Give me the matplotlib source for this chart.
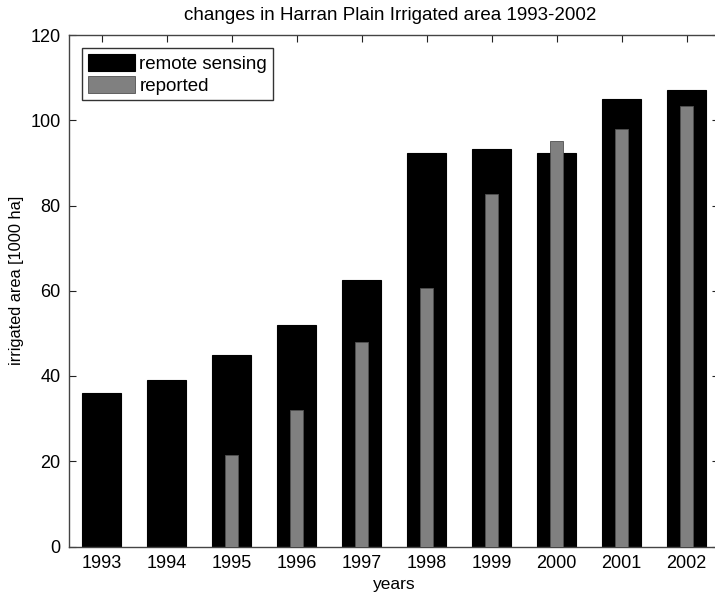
import numpy as np
import matplotlib
matplotlib.use("Agg")
import matplotlib.pyplot as plt

plt.rcParams["font.family"] = ["Liberation Sans", "DejaVu Sans"]

years = [1993, 1994, 1995, 1996, 1997, 1998, 1999, 2000, 2001, 2002]
remote_sensing = [36, 39, 45, 52, 62.6, 92.2, 93.2, 92.2, 105.1, 107.2]
reported = [np.nan, np.nan, 21.5, 32, 48, 60.7, 82.6, 95.2, 97.9, 103.3]

W, H = 715, 598
fig = plt.figure(figsize=(W / 100, H / 100), dpi=100)
ax = fig.add_axes([69 / W, (H - 546.5) / H, 650 / W, (546.5 - 35) / H])

ax.bar(years, remote_sensing, width=0.6, color="black", edgecolor="black",
       linewidth=0.8, label="remote sensing", zorder=2)
ax.bar(years, reported, width=0.2, color="#808080", edgecolor="#505050",
       linewidth=0.6, label="reported", zorder=3)

ax.set_xlim(1992.5, 2002.5)
ax.set_ylim(0, 120)
ax.set_xticks(years)
ax.set_yticks(range(0, 121, 20))
ax.tick_params(direction="in", length=5, width=0.8, top=True, right=True,
               labelsize=13, pad=6, colors="#222222")
ax.tick_params(labelcolor="black")
for s in ax.spines.values():
    s.set_color("#444444")
    s.set_linewidth(1.0)

ax.set_xlabel("years", fontsize=12.5, labelpad=4)
ax.set_ylabel("irrigated area [1000 ha]", fontsize=11.8)
ax.yaxis.set_label_coords(-0.07, 0.521)
ax.set_title("changes in Harran Plain Irrigated area 1993-2002", fontsize=13.5,
             pad=11, x=0.494)

leg = ax.legend(loc="upper left", fontsize=13.5, fancybox=False, framealpha=1,
                edgecolor="#333333", borderpad=0.3, handlelength=2.5,
                handleheight=1.05, handletextpad=0.25, labelspacing=0.15,
                borderaxespad=0.7)
leg.get_frame().set_linewidth(1.0)

fig.savefig("out.png", dpi=100)
